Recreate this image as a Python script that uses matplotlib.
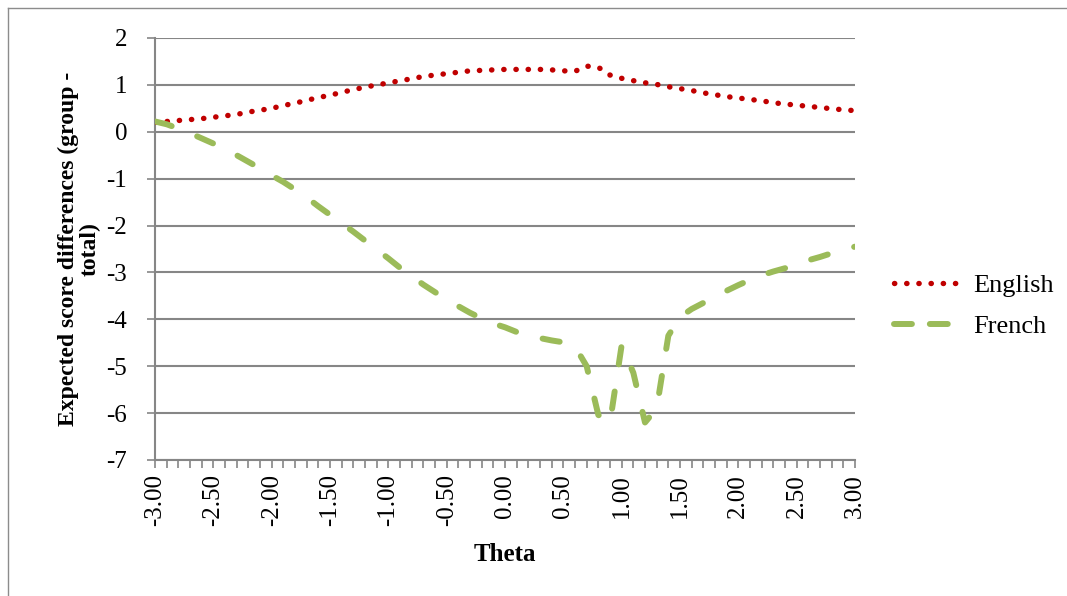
import matplotlib
matplotlib.use("Agg")
import matplotlib.pyplot as plt
import numpy as np
from matplotlib.lines import Line2D

plt.rcParams["font.family"] = ["Liberation Serif", "DejaVu Serif"]

theta = [round(-3.0 + 0.1 * i, 1) for i in range(61)]

english = [
    0.20, 0.22, 0.24, 0.26, 0.28, 0.31, 0.34, 0.37, 0.42, 0.46,
    0.50, 0.56, 0.61, 0.67, 0.73, 0.78, 0.84, 0.90, 0.95, 1.00,
    1.04, 1.09, 1.13, 1.18, 1.21, 1.24, 1.27, 1.30, 1.31, 1.32,
    1.33, 1.33, 1.33, 1.33, 1.32, 1.30, 1.29, 1.40, 1.375, 1.21,
    1.14, 1.09, 1.045, 1.01, 0.96, 0.92, 0.88, 0.83, 0.79, 0.75,
    0.72, 0.69, 0.66, 0.62, 0.59, 0.57, 0.54, 0.52, 0.49, 0.47,
    0.45,
]

french = [
    0.22, 0.16, 0.07, -0.03, -0.14, -0.25, -0.37, -0.50, -0.64, -0.78,
    -0.93, -1.07, -1.23, -1.40, -1.59, -1.77, -1.95, -2.13, -2.32, -2.51,
    -2.70, -2.90, -3.08, -3.26, -3.42, -3.58, -3.72, -3.86, -3.98, -4.09,
    -4.17, -4.27, -4.34, -4.40, -4.45, -4.49, -4.58, -5.00, -6.04, -6.20,
    -4.55, -5.14, -6.20, -5.90, -4.35, -3.95, -3.78, -3.65, -3.52, -3.39,
    -3.27, -3.16, -3.06, -2.98, -2.91, -2.82, -2.74, -2.67, -2.59, -2.52,
    -2.45,
]

x_ticks = [-3.0, -2.5, -2.0, -1.5, -1.0, -0.5, 0.0, 0.5, 1.0, 1.5, 2.0, 2.5, 3.0]
y_ticks = [2, 1, 0, -1, -2, -3, -4, -5, -6, -7]

RED = "#C00000"
GREEN = "#9BBB59"
GRID = "#868686"

fig = plt.figure(figsize=(10.67, 5.96), dpi=100, facecolor="white")
W, H = 1067, 596
ax = fig.add_axes([155 / W, 1 - 460 / H, 700 / W, 422 / H])

en_style = (0, (0.05, 2.2))
fr_style = (0, (2.9, 4.6))

ax.plot(theta, english, color=RED, lw=3.9, linestyle=en_style,
        dash_capstyle="round", solid_joinstyle="round", zorder=3)
ax.plot(theta, french, color=GREEN, lw=4.3, linestyle=fr_style,
        dash_capstyle="round", dash_joinstyle="round", zorder=3)

ax.set_xlim(-3, 3)
ax.set_ylim(-7, 2)

ax.set_yticks(y_ticks)
ax.set_yticklabels([str(v) for v in y_ticks], fontsize=18)
ax.set_xticks(x_ticks)
ax.set_xticklabels([f"{v:.2f}" for v in x_ticks], rotation=90, fontsize=18)
ax.set_xticks(np.array(theta), minor=True)

ax.tick_params(axis="y", length=6, width=1.2, color=GRID, pad=14)
ax.tick_params(axis="x", which="both", length=6, width=1.2, color=GRID, pad=4)

ax.grid(axis="y", color=GRID, lw=1.5)
ax.set_axisbelow(True)
for side in ["top", "right"]:
    ax.spines[side].set_visible(False)
for side in ["left", "bottom"]:
    ax.spines[side].set_color(GRID)
    ax.spines[side].set_linewidth(1.5)

ax.set_xlabel("Theta", fontsize=18, fontweight="bold", labelpad=12)
ax.set_ylabel("Expected score differences (group -\ntotal)", fontsize=17,
              fontweight="bold", labelpad=4, linespacing=1.05)

handles = [
    Line2D([], [], color=RED, lw=3.9, linestyle=en_style, dash_capstyle="round"),
    Line2D([], [], color=GREEN, lw=4.3, linestyle=(0, (3.0, 3.0)), dash_capstyle="round"),
]
fig.legend(handles, ["English", "French"], loc="center left",
           bbox_to_anchor=(870 / W, 1 - 306 / H), frameon=False, fontsize=19,
           handlelength=2.5, handletextpad=0.5, labelspacing=0.65)

# outer border of the chart area
fig.add_artist(Line2D([8 / W, 1], [1 - 8 / H, 1 - 8 / H], color="#8c8c8c", lw=1.0))
fig.add_artist(Line2D([8 / W, 8 / W], [0, 1 - 8 / H], color="#8c8c8c", lw=1.0))

fig.savefig("out.png", dpi=100, facecolor="white")
